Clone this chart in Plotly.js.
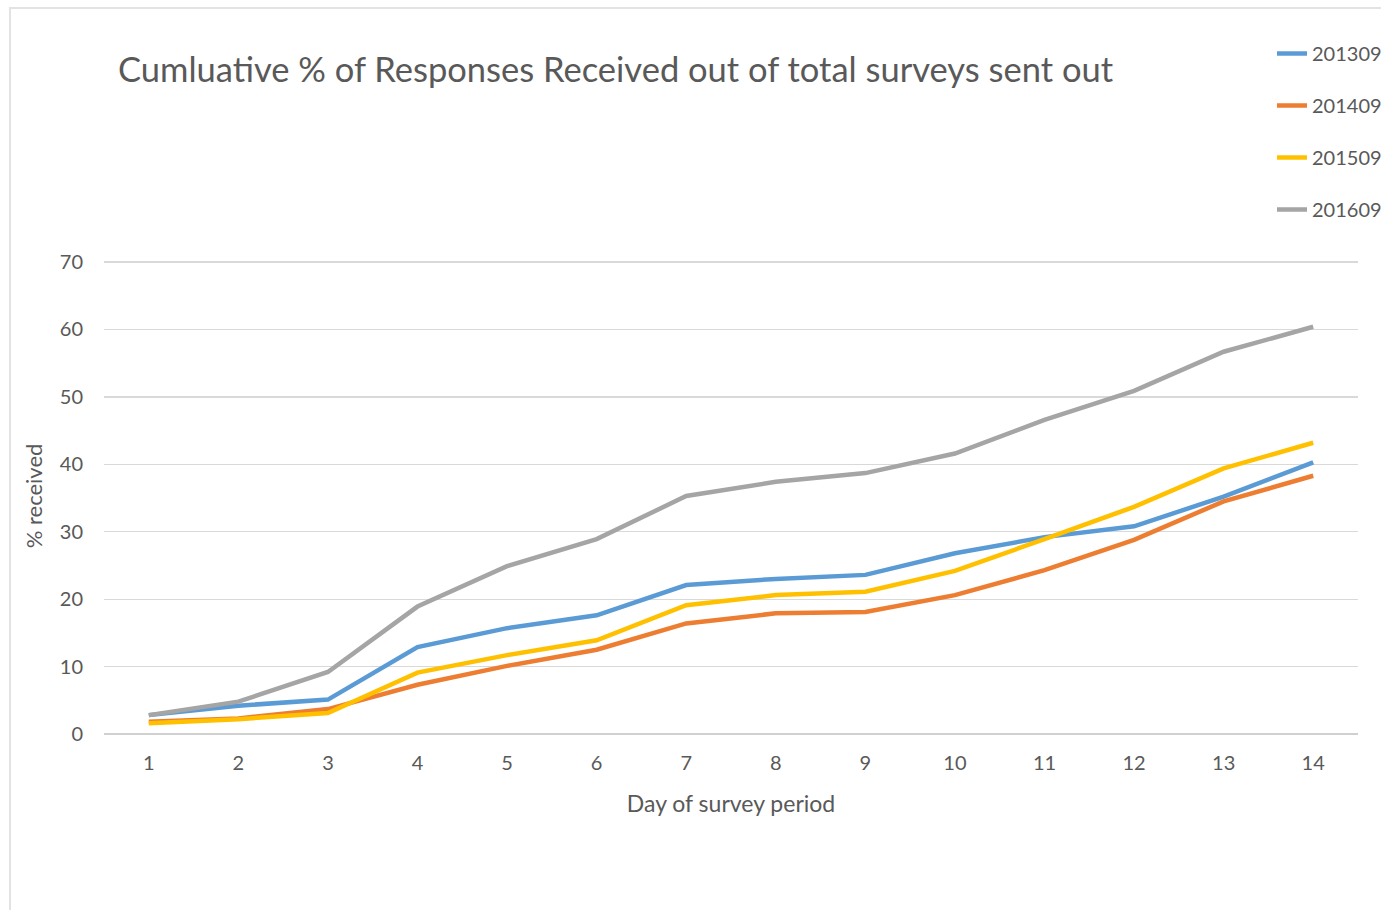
<!DOCTYPE html>
<html>
<head>
<meta charset="utf-8">
<script src="https://cdn.plot.ly/plotly-3.0.1.min.js"></script>
<style>
  html, body { margin: 0; padding: 0; background: #fff; overflow: hidden; }
  #chart { position: absolute; left: 0; top: 0; width: 1420px; height: 910px; }
  #frame { position: absolute; left: 9px; top: 7px; width: 1420px; height: 910px;
           border-left: 2px solid #e3e3e3; border-top: 2px solid #e3e3e3; pointer-events: none; }
</style>
</head>
<body>
<div id="chart"></div>
<div id="frame"></div>
<script>
const days = [1, 2, 3, 4, 5, 6, 7, 8, 9, 10, 11, 12, 13, 14];
const seriesNames = ["201309", "201409", "201509", "201609"];
const s201309 = [2.8, 4.2, 5.1, 12.9, 15.7, 17.6, 22.1, 23.0, 23.6, 26.8, 29.2, 30.8, 35.2, 40.3];
const s201409 = [1.8, 2.3, 3.7, 7.3, 10.1, 12.5, 16.4, 17.9, 18.1, 20.6, 24.3, 28.8, 34.5, 38.3];
const s201509 = [1.6, 2.2, 3.1, 9.1, 11.7, 13.9, 19.1, 20.6, 21.1, 24.2, 28.9, 33.7, 39.4, 43.2];
const s201609 = [2.8, 4.8, 9.2, 18.9, 24.9, 28.9, 35.3, 37.4, 38.7, 41.6, 46.6, 50.9, 56.7, 60.4];
const yTicks = [0, 10, 20, 30, 40, 50, 60, 70];
const colors = ["#5B9BD5", "#ED7D31", "#FFC000", "#A5A5A5"];
const values = [s201309, s201409, s201509, s201609];

const font = "Lato, 'Open Sans', sans-serif";
const traces = values.map((v, i) => ({
  x: days, y: v, type: "scatter", mode: "lines", name: seriesNames[i],
  legendgroup: "g" + i,
  line: { color: colors[i], width: 4.5 }
}));

const W = 1420, H = 910;
const yTop = 70.6;
const pxPerUnit = (734 - 262) / 70;
const layout = {
  width: W, height: H,
  paper_bgcolor: "#ffffff", plot_bgcolor: "#ffffff",
  font: { family: font, color: "#595959", size: 18 },
  margin: { l: 103.5, r: W - 1358, t: 734 - yTop * pxPerUnit, b: H - 734, autoexpand: false },
  title: {
    text: "Cumluative % of Responses Received out of total surveys sent out",
    font: { family: font, size: 34.5, color: "#595959" },
    xref: "container", yref: "container",
    x: 118 / W, xanchor: "left", y: 1 - 70 / H, yanchor: "middle"
  },
  xaxis: {
    type: "linear", range: [0.5, 14.5], tickvals: days,
    showgrid: false, zeroline: false, showline: false, ticks: "",
    ticklabelstandoff: 15,
    tickfont: { size: 20, color: "#595959" },
    title: { text: "Day of survey period", font: { size: 23, color: "#595959" }, standoff: 22 }
  },
  yaxis: {
    range: [0, yTop], tickvals: yTicks,
    showgrid: true, gridcolor: "#d9d9d9", gridwidth: 1.3,
    zeroline: true, zerolinecolor: "#d0d0d0", zerolinewidth: 1.5,
    showline: false, ticks: "", ticklabelstandoff: 20,
    tickfont: { size: 20, color: "#595959" },
    title: { text: "% received", font: { size: 22, color: "#595959" }, standoff: 11 }
  },
  showlegend: true,
  legend: {
    xref: "container", yref: "container",
    x: 1272 / W, xanchor: "left", y: 1 - 34 / H, yanchor: "top",
    font: { size: 20, color: "#595959" },
    traceorder: "grouped", tracegroupgap: 23,
    bgcolor: "rgba(0,0,0,0)", borderwidth: 0
  }
};

Plotly.newPlot("chart", traces, layout, { displayModeBar: false, staticPlot: true });
</script>
</body>
</html>
